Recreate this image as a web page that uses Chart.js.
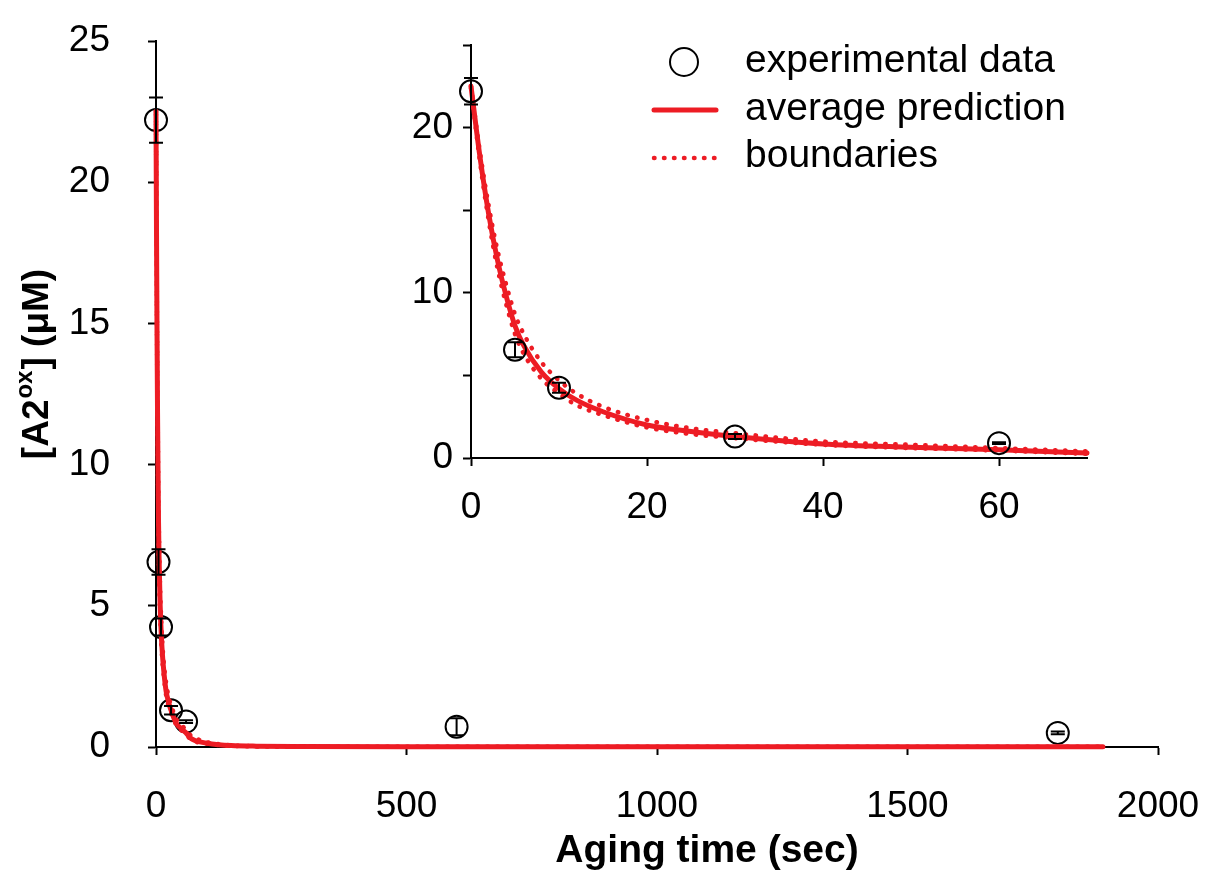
<!DOCTYPE html>
<html lang="en">
<head>
<meta charset="UTF-8">
<title>A2ox aging</title>
<script src="https://cdn.jsdelivr.net/npm/chart.js@4.4.1/dist/chart.umd.min.js"></script>
<style>
  body { margin: 0; background: #fff; }
  #wrap { position: relative; width: 1208px; height: 872px; }
  canvas { position: absolute; left: 0; top: 0; }
</style>
</head>
<body>
<div id="wrap">
  <canvas id="main" width="1208" height="872"></canvas>
  <canvas id="inset" width="1208" height="872"></canvas>
</div>
<script>
// measured [A2ox] (uM) vs aging time (sec), with error bars
const expTime = [0, 5, 10, 30, 60, 600, 1800];
const expConc = [22.2, 6.55, 4.25, 1.3, 0.9, 0.72, 0.5];
const expErr  = [0.8, 0.45, 0.3, 0.15, 0.05, 0.3, 0.05];

// model curves
const predTime  = [0, 1, 2, 3, 4, 5, 6, 8, 10, 12, 15, 20, 25, 30, 40, 50, 60, 70, 80, 100, 125, 150, 200, 300, 500, 1000, 1500, 1890];
const predAvg   = [22.5, 18.3, 14.8, 12.0, 9.8, 8.0, 6.8, 5.2, 4.2, 3.5, 2.8, 2.0, 1.6, 1.3, 0.85, 0.65, 0.5, 0.3, 0.22, 0.14, 0.08, 0.05, 0.03, 0.02, 0.01, 0.01, 0.01, 0.01];
const predUpper = [22.5, 18.6, 15.3, 12.6, 10.5, 8.7, 7.5, 5.8, 4.7, 3.9, 3.1, 2.3, 1.8, 1.5, 1.0, 0.8, 0.6, 0.4, 0.3, 0.18, 0.1, 0.06, 0.03, 0.02, 0.01, 0.01, 0.01, 0.01];
const predLower = [22.4, 18.0, 14.4, 11.5, 9.3, 7.5, 6.3, 4.8, 3.9, 3.2, 2.6, 1.85, 1.45, 1.2, 0.8, 0.6, 0.45, 0.25, 0.18, 0.12, 0.07, 0.04, 0.02, 0.01, 0.01, 0.01, 0.01, 0.01];

// axis ranges
const mainX = { min: 0, max: 2000, step: 500 };
const mainY = { min: 0, max: 25, step: 5 };
const insetX = { min: 0, max: 70, step: 20 };
const insetY = { min: 0, max: 25, step: 5, labelEvery: 10 };

const RED = '#ed1c24';
const FONT = '"Liberation Sans", Arial, sans-serif';
Chart.defaults.font.family = FONT;
Chart.defaults.color = '#000';

const pts = (xs, ys, maxX) => xs.map((x, i) => ({ x: x, y: ys[i] })).filter(p => p.x <= maxX);

function curve(label, ys, dotted, maxX) {
  return {
    label: label,
    data: pts(predTime, ys, maxX),
    showLine: true,
    borderColor: RED,
    backgroundColor: RED,
    borderWidth: dotted ? 4.5 : 5,
    borderDash: dotted ? [0.5, 9.5] : [],
    borderCapStyle: 'round',
    pointRadius: 0,
    cubicInterpolationMode: 'monotone',
    clip: false
  };
}

function points(maxX) {
  return {
    label: 'experimental data',
    data: pts(expTime, expConc, maxX),
    showLine: false,
    pointStyle: 'circle',
    pointRadius: 11,
    pointBorderWidth: 2,
    pointBorderColor: '#000',
    pointBackgroundColor: 'rgba(0,0,0,0)',
    clip: false
  };
}

// fixed scale size, no label overflow padding, so the plot box sits where the reference has it
const fixed = (prop, px) => s => {
  s[prop] = px;
  s.paddingTop = s.paddingBottom = s.paddingLeft = s.paddingRight = 0;
};

function axis(r, size, pad, fit, cb) {
  return {
    type: 'linear',
    min: r.min, max: r.max,
    border: { display: true, color: '#000', width: 2 },
    grid: { drawOnChartArea: false, drawTicks: true, tickLength: 8, tickWidth: 2, tickColor: '#000' },
    ticks: { stepSize: r.step, padding: pad, includeBounds: false, maxRotation: 0, autoSkip: false,
             font: { size: size }, callback: cb || (v => v) },
    afterFit: fit
  };
}

// error bars for the experimental points
const errorBars = {
  id: 'errorBars',
  afterDatasetsDraw(chart) {
    const { ctx, scales: { x, y } } = chart;
    ctx.save();
    ctx.strokeStyle = '#000';
    ctx.lineWidth = 2;
    expTime.forEach((t, i) => {
      if (t > x.max) return;
      const px = x.getPixelForValue(t);
      const top = y.getPixelForValue(expConc[i] + expErr[i]);
      const bot = y.getPixelForValue(expConc[i] - expErr[i]);
      ctx.beginPath();
      ctx.moveTo(px, top); ctx.lineTo(px, bot);
      ctx.moveTo(px - 7, top); ctx.lineTo(px + 7, top);
      ctx.moveTo(px - 7, bot); ctx.lineTo(px + 7, bot);
      ctx.stroke();
    });
    ctx.restore();
  }
};

// axis titles of the main plot
const titles = {
  id: 'titles',
  afterDraw(chart) {
    const ctx = chart.ctx;
    ctx.save();
    ctx.fillStyle = '#000';
    ctx.textBaseline = 'alphabetic';
    ctx.textAlign = 'center';
    ctx.font = 'bold 39px ' + FONT;
    ctx.fillText('Aging time (sec)', 707, 862);

    // rotated y title with superscript
    ctx.translate(48, 364);
    ctx.rotate(-Math.PI / 2);
    ctx.textAlign = 'left';
    const big = 'bold 37px ' + FONT, small = 'bold 24px ' + FONT;
    ctx.font = big;
    const w1 = ctx.measureText('[A2').width, w3 = ctx.measureText('] (\u03bcM)').width;
    ctx.font = small;
    const w2 = ctx.measureText('ox').width + 2;
    let u = -(w1 + w2 + w3) / 2;
    ctx.font = big; ctx.fillText('[A2', u, 0); u += w1;
    ctx.font = small; ctx.fillText('ox', u + 1, -16); u += w2;
    ctx.font = big; ctx.fillText('] (\u03bcM)', u, 0);
    ctx.restore();
  }
};

// legend in the upper right
const legendBox = {
  id: 'legendBox',
  afterDraw(chart) {
    const ctx = chart.ctx;
    ctx.save();
    ctx.strokeStyle = '#000';
    ctx.lineWidth = 2;
    ctx.beginPath();
    ctx.arc(684, 62, 14, 0, Math.PI * 2);
    ctx.stroke();

    ctx.strokeStyle = RED;
    ctx.lineCap = 'round';
    ctx.lineWidth = 5;
    ctx.beginPath(); ctx.moveTo(654, 110); ctx.lineTo(716, 110); ctx.stroke();
    ctx.lineWidth = 4.5;
    ctx.setLineDash([0.5, 9.5]);
    ctx.beginPath(); ctx.moveTo(654, 158); ctx.lineTo(718, 158); ctx.stroke();
    ctx.setLineDash([]);

    ctx.fillStyle = '#000';
    ctx.font = '39px ' + FONT;
    ctx.textAlign = 'left';
    ctx.textBaseline = 'alphabetic';
    ctx.fillText('experimental data', 745, 72);
    ctx.fillText('average prediction', 745, 120);
    ctx.fillText('boundaries', 745, 167);
    ctx.restore();
  }
};

const common = {
  responsive: false,
  animation: false,
  events: [],
  plugins: { legend: { display: false }, tooltip: { enabled: false } }
};

new Chart(document.getElementById('main'), {
  type: 'scatter',
  data: {
    datasets: [
      curve('average prediction', predAvg, false, mainX.max),
      curve('upper boundary', predUpper, true, mainX.max),
      curve('lower boundary', predLower, true, mainX.max),
      points(mainX.max)
    ]
  },
  options: Object.assign({}, common, {
    layout: { padding: { left: 0, top: 41, right: 50, bottom: 0 } },
    scales: {
      x: axis(mainX, 37, 30, fixed('height', 125)),
      y: axis(mainY, 37, 38, fixed('width', 156))
    }
  }),
  plugins: [errorBars, titles]
});

new Chart(document.getElementById('inset'), {
  type: 'scatter',
  data: {
    datasets: [
      points(insetX.max),
      curve('average prediction', predAvg, false, insetX.max),
      curve('upper boundary', predUpper, true, insetX.max),
      curve('lower boundary', predLower, true, insetX.max)
    ]
  },
  options: Object.assign({}, common, {
    layout: { padding: { left: 0, top: 45, right: 121, bottom: 0 } },
    scales: {
      x: axis(insetX, 37, 20, fixed('height', 414)),
      y: axis(insetY, 37, 10, fixed('width', 471),
              v => (v % insetY.labelEvery === 0 ? v : ''))
    }
  }),
  plugins: [errorBars, legendBox]
});
</script>
</body>
</html>
